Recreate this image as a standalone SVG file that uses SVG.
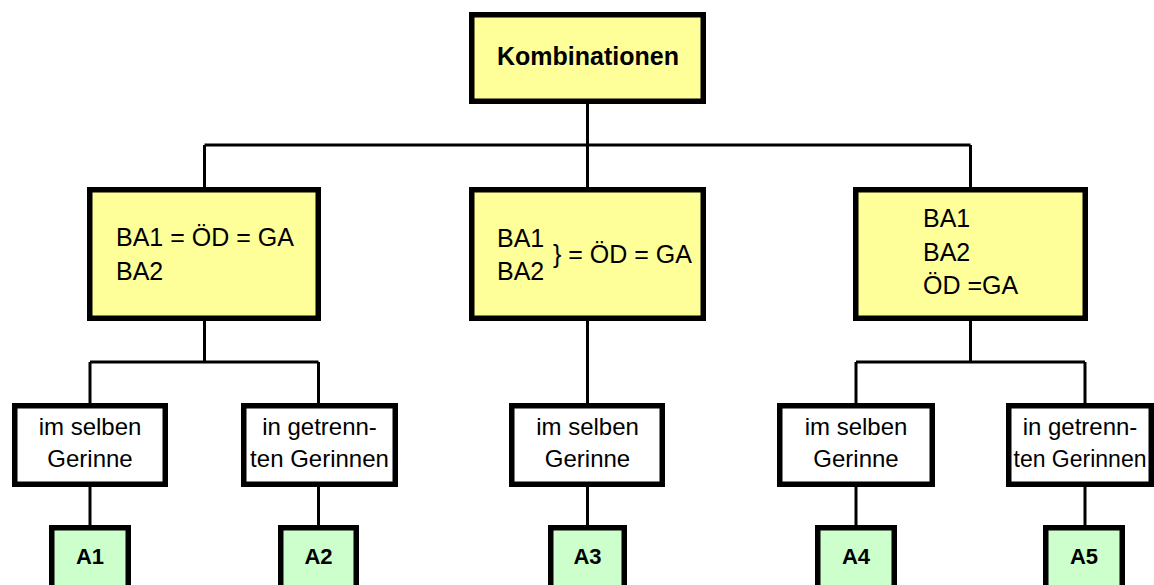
<svg xmlns="http://www.w3.org/2000/svg" width="1154" height="585" viewBox="0 0 1154 585">
<style>
.box{stroke:#000;stroke-width:5.5}
.y{fill:#FFFF99}
.w{fill:#FFFFFF}
.g{fill:#CCFFCC}
.t{font-family:"Liberation Sans",Arial,sans-serif;font-size:25px;fill:#000}
.s{font-size:24px}
.c{text-anchor:middle}
.b{font-weight:bold}
.a{font-size:22px}
#connectors line{stroke:#000;stroke-width:3;fill:none}
</style>
<rect width="1154" height="585" fill="#fff"/>
<g id="connectors">
<line x1="587.5" y1="104" x2="587.5" y2="145"/>
<line x1="204.5" y1="145" x2="970.5" y2="145"/>
<line x1="204.5" y1="145" x2="204.5" y2="187"/>
<line x1="587.5" y1="145" x2="587.5" y2="187"/>
<line x1="970.5" y1="145" x2="970.5" y2="187"/>
<line x1="204.5" y1="321" x2="204.5" y2="362"/>
<line x1="90" y1="362" x2="318.5" y2="362"/>
<line x1="90" y1="362" x2="90" y2="403"/>
<line x1="318.5" y1="362" x2="318.5" y2="403"/>
<line x1="587.5" y1="321" x2="587.5" y2="403"/>
<line x1="970.5" y1="321" x2="970.5" y2="362"/>
<line x1="856" y1="362" x2="1085" y2="362"/>
<line x1="856" y1="362" x2="856" y2="403"/>
<line x1="1085" y1="362" x2="1085" y2="403"/>
<line x1="90" y1="487" x2="90" y2="525"/>
<line x1="318.5" y1="487" x2="318.5" y2="525"/>
<line x1="587.5" y1="487" x2="587.5" y2="525"/>
<line x1="856" y1="487" x2="856" y2="525"/>
<line x1="1085" y1="487" x2="1085" y2="525"/>
</g>
<g id="kombinationen">
<rect class="box y" x="471.75" y="14.75" width="231.5" height="86.5"/>
<text class="t c b" x="588" y="64.5">Kombinationen</text>
</g>
<g id="combo1">
<rect class="box y" x="89.75" y="189.75" width="228.5" height="128.5"/>
<text class="t" x="116" y="246">BA1 = ÖD = GA</text>
<text class="t" x="116" y="280">BA2</text>
</g>
<g id="combo2">
<rect class="box y" x="471.75" y="189.75" width="231.5" height="128.5"/>
<text class="t" x="497" y="247">BA1</text>
<text class="t" x="497" y="280">BA2</text>
<text class="t" x="553" y="263">} = ÖD = GA</text>
</g>
<g id="combo3">
<rect class="box y" x="855.75" y="189.75" width="229.5" height="128.5"/>
<text class="t" x="923" y="227">BA1</text>
<text class="t" x="923" y="261">BA2</text>
<text class="t" x="923" y="294">ÖD =GA</text>
</g>
<g id="g1">
<rect class="box w" x="14.75" y="405.75" width="150.5" height="78.5"/>
<text class="t s c" x="90" y="435">im selben</text>
<text class="t s c" x="90" y="467">Gerinne</text>
</g>
<g id="g2">
<rect class="box w" x="243.75" y="405.75" width="151.5" height="78.5"/>
<text class="t s c" x="319.5" y="435">in getrenn-</text>
<text class="t s c" x="319.5" y="467">ten Gerinnen</text>
</g>
<g id="g3">
<rect class="box w" x="511.75" y="405.75" width="150.5" height="78.5"/>
<text class="t s c" x="587.5" y="435">im selben</text>
<text class="t s c" x="587.5" y="467">Gerinne</text>
</g>
<g id="g4">
<rect class="box w" x="779.75" y="405.75" width="152.5" height="78.5"/>
<text class="t s c" x="856" y="435">im selben</text>
<text class="t s c" x="856" y="467">Gerinne</text>
</g>
<g id="g5">
<rect class="box w" x="1008.75" y="405.75" width="142.5" height="78.5"/>
<text class="t s c" x="1080" y="435">in getrenn-</text>
<text class="t s c" x="1080" y="467" style="font-size:23px">ten Gerinnen</text>
</g>
<g id="a1">
<rect class="box g" x="51.75" y="527.75" width="76.5" height="80"/>
<text class="t a c b" x="90" y="564">A1</text>
</g>
<g id="a2">
<rect class="box g" x="280.75" y="527.75" width="75.5" height="80"/>
<text class="t a c b" x="318.5" y="564">A2</text>
</g>
<g id="a3">
<rect class="box g" x="550.75" y="527.75" width="73.5" height="80"/>
<text class="t a c b" x="587.5" y="564">A3</text>
</g>
<g id="a4">
<rect class="box g" x="817.75" y="527.75" width="76.5" height="80"/>
<text class="t a c b" x="856" y="564">A4</text>
</g>
<g id="a5">
<rect class="box g" x="1045.75" y="527.75" width="76.5" height="80"/>
<text class="t a c b" x="1084" y="564">A5</text>
</g>
</svg>
